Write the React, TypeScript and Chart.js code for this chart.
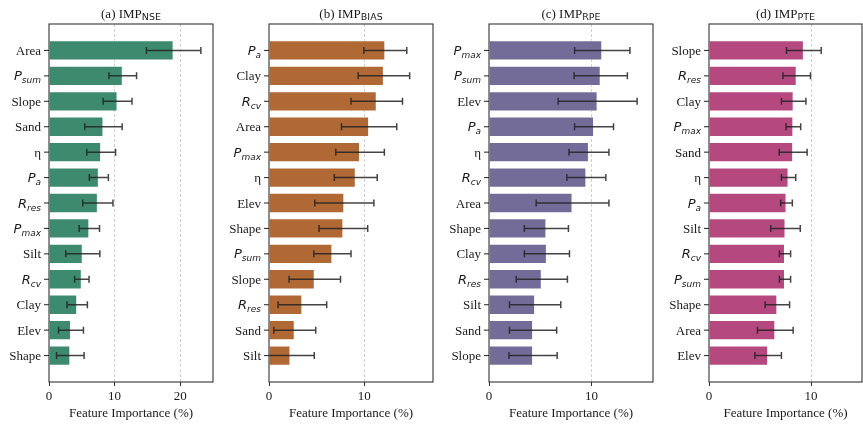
import React, { useEffect, useRef } from "react";
import { Chart, registerables } from "chart.js";
Chart.register(...registerables);

const SERIF = '"Liberation Serif", "Times New Roman", serif';
const SANS = '"DejaVu Sans", sans-serif';

// (a) NSE
const catsNSE = ["Area", "P_sum", "Slope", "Sand", "η", "P_a", "R_res", "P_max", "Silt", "R_cv", "Clay", "Elev", "Shape"];
const valsNSE = [19.0, 11.25, 10.45, 8.3, 7.95, 7.6, 7.45, 6.15, 5.15, 5.0, 4.3, 3.35, 3.25];
const errsNSE = [4.15, 2.1, 2.2, 2.85, 2.2, 1.45, 2.3, 1.55, 2.6, 1.1, 1.55, 1.9, 2.1];

// (b) BIAS
const catsBIAS = ["P_a", "Clay", "R_cv", "Area", "P_max", "η", "Elev", "Shape", "P_sum", "Slope", "R_res", "Sand", "Silt"];
const valsBIAS = [12.2, 12.05, 11.3, 10.5, 9.55, 9.1, 7.9, 7.8, 6.65, 4.8, 3.5, 2.7, 2.25];
const errsBIAS = [2.25, 2.7, 2.7, 2.9, 2.55, 2.25, 3.1, 2.55, 1.95, 2.7, 2.55, 2.2, 2.5];

// (c) RPE
const catsRPE = ["P_max", "P_sum", "Elev", "P_a", "η", "R_cv", "Area", "Shape", "Clay", "R_res", "Silt", "Sand", "Slope"];
const valsRPE = [11.05, 10.9, 10.6, 10.25, 9.75, 9.5, 8.15, 5.6, 5.65, 5.15, 4.5, 4.3, 4.3];
const errsRPE = [2.7, 2.6, 3.85, 1.9, 1.95, 1.9, 3.55, 2.15, 2.2, 2.5, 2.5, 2.3, 2.35];

// (d) PTE
const catsPTE = ["Slope", "R_res", "Clay", "P_max", "Sand", "η", "P_a", "Silt", "R_cv", "P_sum", "Shape", "Area", "Elev"];
const valsPTE = [9.3, 8.6, 8.3, 8.27, 8.25, 7.8, 7.6, 7.5, 7.45, 7.45, 6.7, 6.5, 5.8];
const errsPTE = [1.7, 1.35, 1.2, 0.72, 1.37, 0.7, 0.57, 1.45, 0.55, 0.55, 1.2, 1.75, 1.3];

const ticksA = [0, 10, 20];
const ticksB = [0, 10];
const ticksC = [0, 10];
const ticksD = [0, 10];

const panels = [
  { title: "(a) IMP", sub: "NSE", cats: catsNSE, vals: valsNSE, errs: errsNSE, color: "#3e8a6f", xMax: 25, ticks: ticksA, left: 49, right: 213 },
  { title: "(b) IMP", sub: "BIAS", cats: catsBIAS, vals: valsBIAS, errs: errsBIAS, color: "#b06834", xMax: 17.2, ticks: ticksB, left: 269, right: 433 },
  { title: "(c) IMP", sub: "RPE", cats: catsRPE, vals: valsRPE, errs: errsRPE, color: "#746c98", xMax: 16, ticks: ticksC, left: 489, right: 653 },
  { title: "(d) IMP", sub: "PTE", cats: catsPTE, vals: valsPTE, errs: errsPTE, color: "#b5487e", xMax: 15, ticks: ticksD, left: 709, right: 862 },
];

const YAXIS_W = 49;
const PLOT_TOP = 24;
const XAXIS_H = 42;
const H = 424;

function Panel(p: any) {
  const ref = useRef<HTMLCanvasElement | null>(null);
  const canvasLeft = p.left - YAXIS_W;
  const width = p.right - p.left + YAXIS_W + 1;
  useEffect(() => {
    const cvs = ref.current;
    if (!cvs) return;
    const n = p.cats.length;
    const decor = {
      id: "decor",
      afterDatasetsDraw(chart: any) {
        const { ctx, chartArea: a, scales } = chart;
        const x = scales.x, y = scales.y;
        ctx.save();
        ctx.beginPath();
        ctx.rect(a.left, a.top, a.right - a.left, a.bottom - a.top);
        ctx.clip();
        ctx.strokeStyle = "rgba(35,35,35,0.85)";
        ctx.lineWidth = 1.5;
        p.vals.forEach((v: number, i: number) => {
          const py = y.getPixelForValue(i);
          const x1 = x.getPixelForValue(v - p.errs[i]);
          const x2 = x.getPixelForValue(v + p.errs[i]);
          ctx.beginPath();
          ctx.moveTo(x1, py); ctx.lineTo(x2, py);
          ctx.moveTo(x1, py - 3.5); ctx.lineTo(x1, py + 3.5);
          ctx.moveTo(x2, py - 3.5); ctx.lineTo(x2, py + 3.5);
          ctx.stroke();
        });
        ctx.restore();
      },
      afterDraw(chart: any) {
        const { ctx, chartArea: a, scales } = chart;
        const y = scales.y;
        ctx.save();
        // spines
        ctx.strokeStyle = "#333";
        ctx.lineWidth = 1.1;
        ctx.strokeRect(a.left, a.top, a.right - a.left, a.bottom - a.top);
        // y ticks + labels
        ctx.fillStyle = "#1a1a1a";
        ctx.textBaseline = "alphabetic";
        p.cats.forEach((c: string, i: number) => {
          const py = y.getPixelForValue(i);
          ctx.beginPath();
          ctx.moveTo(a.left - 5, py); ctx.lineTo(a.left, py);
          ctx.stroke();
          const rx = a.left - 8;
          const base = py + 4.5;
          if (c.includes("_")) {
            const [b, s] = c.split("_");
            ctx.font = `italic 13px ${SANS}`;
            const bw = ctx.measureText(b).width;
            ctx.font = `italic 9px ${SANS}`;
            const sw = ctx.measureText(s).width;
            ctx.textAlign = "left";
            ctx.font = `italic 13px ${SANS}`;
            ctx.fillText(b, rx - bw - sw, base);
            ctx.font = `italic 9px ${SANS}`;
            ctx.fillText(s, rx - sw, base + 3);
          } else {
            ctx.font = `13px ${SERIF}`;
            ctx.textAlign = "right";
            ctx.fillText(c, rx, base);
          }
        });
        // title
        const cx = (a.left + a.right) / 2;
        ctx.font = `13px ${SERIF}`;
        const tw = ctx.measureText(p.title).width;
        ctx.font = `9.5px ${SANS}`;
        const sw = ctx.measureText(p.sub).width;
        const sx = cx - (tw + sw) / 2;
        ctx.textAlign = "left";
        ctx.font = `13px ${SERIF}`;
        ctx.fillText(p.title, sx, 18);
        ctx.font = `9.5px ${SANS}`;
        ctx.fillText(p.sub, sx + tw, 20);
        // x title
        ctx.font = `13px ${SERIF}`;
        ctx.textAlign = "center";
        ctx.fillText("Feature Importance (%)", cx, 417);
        ctx.restore();
      },
    };
    const chart = new Chart(cvs, {
      type: "bar",
      data: {
        labels: p.cats,
        datasets: [
          {
            data: p.vals.map((v: number, i: number) => ({ x: v, y: i })),
            backgroundColor: p.color,
            borderColor: "rgba(255,255,255,0.55)",
            borderWidth: 1,
            categoryPercentage: 1,
            barPercentage: 0.8,
          } as any,
        ],
      },
      options: {
        indexAxis: "y",
        animation: false,
        responsive: false,
        devicePixelRatio: 1,
        layout: { padding: { top: PLOT_TOP, left: 0, right: 1, bottom: 0 } },
        plugins: { legend: { display: false }, tooltip: { enabled: false } },
        scales: {
          x: {
            type: "linear",
            min: 0,
            max: p.xMax,
            offset: false,
            afterBuildTicks: (s: any) => {
              s.ticks = p.ticks.map((v: number) => ({ value: v }));
            },
            afterFit: (s: any) => {
              s.height = XAXIS_H;
            },
            grid: {
              color: (c: any) => (c.tick && c.tick.value === 0 ? "rgba(0,0,0,0)" : "rgba(160,172,172,0.55)"),
              lineWidth: 1,
              drawTicks: true,
              tickLength: 4,
              tickColor: "#333",
              tickWidth: 1,
            },
            border: { display: false, dash: [3, 2] },
            ticks: { font: { family: SERIF, size: 13 }, color: "#1a1a1a", padding: 3, maxRotation: 0, autoSkip: false },
          },
          y: {
            type: "linear",
            min: -1.04,
            max: n - 1 + 1.04,
            reverse: true,
            offset: false,
            grid: { display: false, offset: false },
            border: { display: false },
            ticks: { display: false },
            afterFit: (s: any) => {
              s.width = YAXIS_W;
            },
          },
        },
      } as any,
      plugins: [decor],
    });
    return () => chart.destroy();
  }, []);
  return (
    <canvas
      ref={ref}
      width={width}
      height={H}
      style={{ position: "absolute", left: canvasLeft, top: 0, width, height: H, display: "block" }}
    />
  );
}

export default function App() {
  return (
    <div style={{ position: "fixed", left: 0, top: 0, width: 863, height: 424, background: "#fff", overflow: "hidden" }}>
      {panels.map((p, i) => (
        <Panel key={i} {...p} />
      ))}
    </div>
  );
}
